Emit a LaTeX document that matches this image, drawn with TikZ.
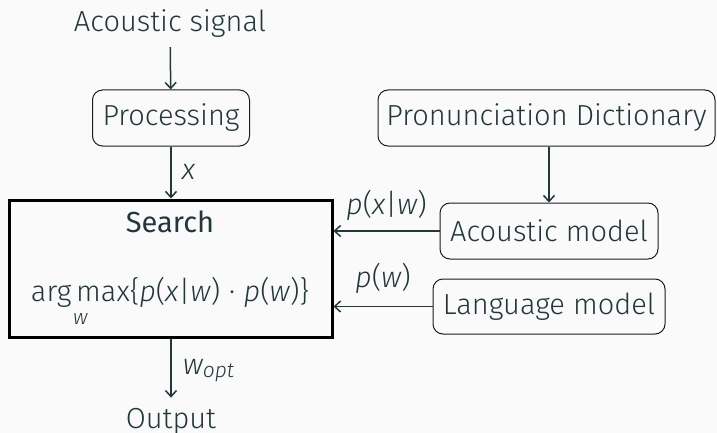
\documentclass[tikz,border=0pt]{standalone}
\usepackage{amsmath}
\usepackage{fontspec}
\setmainfont{Fira Sans Light}[ItalicFont={Fira Sans Light Italic},BoldFont={Fira Sans},BoldItalicFont={Fira Sans Italic}]
\usetikzlibrary{arrows.meta}
\definecolor{ink}{HTML}{23373B}
\definecolor{frame}{HTML}{1C1C1C}
\definecolor{paper}{HTML}{FAFAFA}
% "arg max" with the variable set centred underneath
\newcommand{\argmaxover}[1]{\begin{tabular}[t]{@{}c@{}}arg\,max\\[-9pt]{\fontsize{21}{21}\selectfont\itshape #1}\end{tabular}}
\begin{document}
\begin{tikzpicture}[x=1pt,y=-1pt,
  font=\fontsize{29}{32}\selectfont,
  every node/.style={text=ink},
  blk/.style={draw=frame,line width=1pt,rounded corners=10pt,minimum height=56pt,inner sep=0pt},
  arr/.style={draw=ink,line width=1.5pt,-{Straight Barb[length=6pt,width=11pt]}},
  lbl/.style={inner sep=0pt}]
  \fill[paper] (0,0) rectangle (717,433);
  \useasboundingbox (0,0) rectangle (717,433);

  % input chain
  \node[lbl,anchor=base] (sig) at (170,32) {Acoustic signal};
  \node[blk,minimum width=157pt] (proc) at (171,118) {Processing};

  % search block
  \node[draw=black,line width=3pt,minimum width=323pt,minimum height=137pt,inner sep=0pt] (search) at (170.5,268.5) {};
  \node[lbl,anchor=base,font=\fontsize{29}{32}\bfseries] (stitle) at (170,232) {Search};
  \node[lbl,anchor=base] (formula) at (170,301)
    {\argmaxover{w}\{\textit{p}(\textit{x}|\textit{w})\hspace{0.3em}·\hspace{0.3em}\textit{p}(\textit{w})\}};

  % output
  \node[lbl,anchor=base] (out) at (171,428) {Output};

  % knowledge sources
  \node[blk,minimum width=337pt] (dict) at (546.5,118) {Pronunciation Dictionary};
  \node[blk,minimum width=218pt] (am) at (549,231) {Acoustic model};
  \node[blk,minimum width=232pt,minimum height=55pt] (lm) at (549,306.5) {Language model};

  % connectors
  \draw[arr,shorten <=9pt] (sig) -- (proc);
  \draw[arr] (proc) -- node[lbl,anchor=base west,xshift=10pt,yshift=-7pt] {\itshape x} (proc |- search.north);
  \draw[arr] (search.south -| out) -- node[lbl,anchor=base west,xshift=11pt,yshift=-6.5pt]
    {\itshape w{\fontsize{21}{21}\selectfont\raisebox{-3pt}{opt}}} ([yshift=10pt]out.north);
  \draw[arr] (am.north |- dict.south) -- (am.north);
  \draw[arr] (am.west) -- node[lbl,anchor=base,yshift=17pt] {\itshape p\upshape(\itshape x\upshape|\itshape w\upshape)} (search.east |- am.west);
  \draw[arr] (lm.west) -- node[lbl,anchor=base,yshift=19.5pt] {\itshape p\upshape(\itshape w\upshape)} (search.east |- lm.west);
\end{tikzpicture}
\end{document}
